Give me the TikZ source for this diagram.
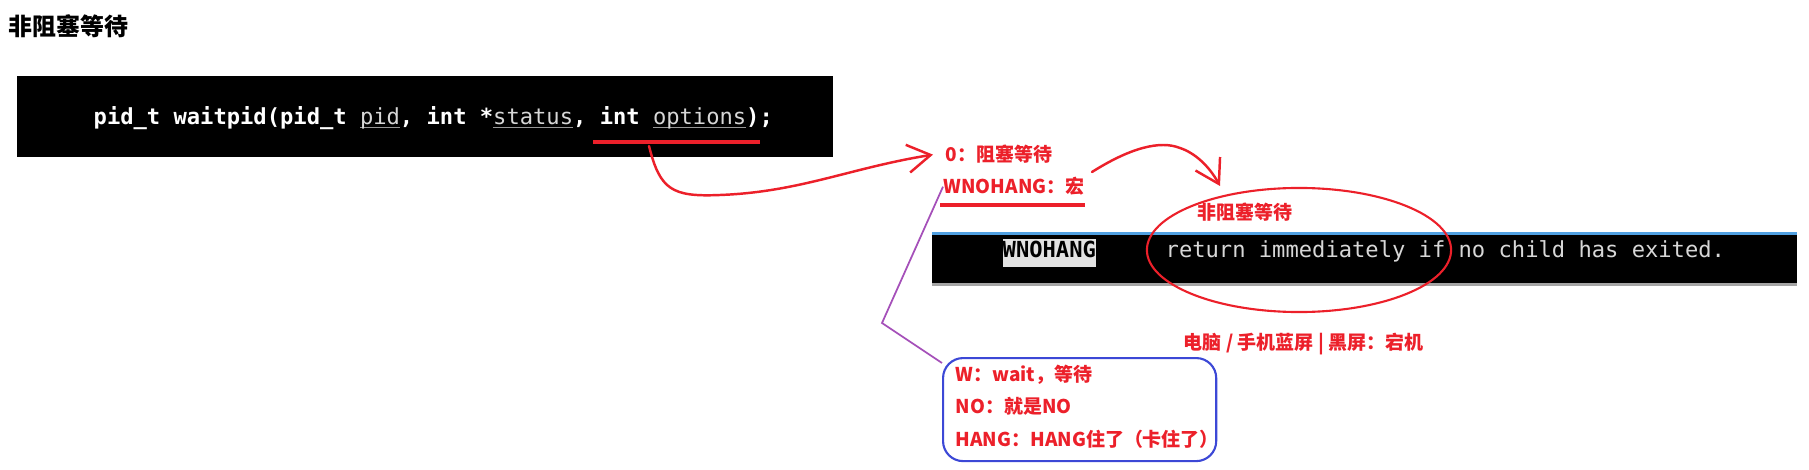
\documentclass[tikz,border=0pt]{standalone}
\usepackage{fontspec}
\newfontfamily\cjk{Noto Sans CJK SC}
\newfontfamily\codefont{DejaVu Sans Mono}
\usetikzlibrary{arrows.meta}
\definecolor{anotrojo}{RGB}{236,32,42}
\definecolor{morado}{RGB}{165,80,185}
\definecolor{azulmarco}{RGB}{60,72,214}
\definecolor{azulborde}{RGB}{80,160,225}
\definecolor{grisborde}{RGB}{165,165,165}
\definecolor{grisresalte}{RGB}{226,226,226}
\definecolor{grisenlace}{RGB}{150,150,150}
\definecolor{textoenlace}{RGB}{215,215,215}
\newsavebox\cajaenlace
\newcommand\enlace[1]{\sbox\cajaenlace{\mdseries\color{textoenlace}#1}\rlap{\color{grisenlace}\rule[-0.03cm]{\wd\cajaenlace}{0.012cm}}\usebox\cajaenlace}
\begin{document}
\begin{tikzpicture}[x=0.01cm,y=-0.01cm,
    anot/.style={anchor=base west,inner sep=0,text=anotrojo,font=\cjk\bfseries\fontsize{5.4pt}{6pt}\selectfont},
    codigo/.style={anchor=base west,inner sep=0,font=\codefont\fontsize{6.29pt}{7pt}\selectfont},
    trazo/.style={anotrojo,line width=0.7pt,line cap=round,line join=round},
    punta/.style={-{Straight Barb[length=0.23cm,width=0.28cm]}}]
    \useasboundingbox (0,0) rectangle (1809,470);

    % Titulo
    \node[anchor=base west,inner sep=0,font=\cjk\bfseries\fontsize{6.8pt}{8pt}\selectfont] (titulo) at (8,36) {非阻塞等待};

    % Prototipo de la funcion
    \fill[black] (17,76) rectangle (833,157);
    \node[codigo,text=white] (proto) at (93,125) {\bfseries pid\_t waitpid(pid\_t \enlace{pid}, int *\enlace{status}, int \enlace{options});};
    \coordinate (optL) at (593,142);
    \coordinate (optR) at (760,142);
    \draw[anotrojo,line width=0.9pt] (optL) -- (optR);
    \coordinate (inicio) at (649,146);

    % Valores de options
    \node[anot] (cero) at (945,162) {0：阻塞等待};
    \node[anot] (wn) at (943,194) {WNOHANG：宏};
    \draw[anotrojo,line width=0.9pt] ([shift={(-0.03cm,-0.11cm)}]wn.base west) -- ([yshift=-0.11cm]wn.base east);
    \draw[trazo,punta] (inicio) .. controls (660,190) and (672,197) .. (720,195) .. controls (800,192) and (850,168) .. ([xshift=-0.12cm]cero.west);

    % Pagina del manual
    \fill[black] (932,234) rectangle (1797,284);
    \draw[azulborde,line width=0.6pt] (932,233.5) -- (1797,233.5);
    \draw[grisborde,line width=0.8pt] (932,284.5) -- (1797,284.5);
    \node[codigo,fill=grisresalte,text=black,text height=0.19cm,text depth=0.09cm] (opcion) at (1002,258) {\bfseries WNOHANG};
    \node[codigo,text=textoenlace] (desc) at (1165,258) {return immediately if no child has exited.};

    % No bloqueante
    \node[anot] (nobloq) at (1197,220) {非阻塞等待};
    \draw[anotrojo,line width=0.6pt] (1299,250) ellipse [x radius=1.52cm,y radius=0.62cm];
    \coordinate (salida) at (1092,172);
    \coordinate (llegada) at (1220,186);
    \draw[trazo,punta] (salida) .. controls (1130,148) and (1160,140) .. (1180,148) .. controls (1195,153) and (1209,166) .. (llegada);
    \node[anot] (pantalla) at (1183,350) {电脑 / 手机蓝屏 | 黑屏：宕机};

    % Significado de WNOHANG
    \node[draw=azulmarco,line width=0.6pt,rounded corners=0.2cm,minimum width=2.73cm,minimum height=1.03cm,anchor=north west,inner sep=0] (caja) at (942,357) {};
    \coordinate (codo) at (882,323);
    \draw[morado,line width=0.5pt] (wn.west) -- (codo) -- ([yshift=-0.06cm]caja.north west);
    \node[anot] (w) at (955,381) {W：wait，等待};
    \node[anot] (no) at (955,413) {NO：就是NO};
    \node[anot] (hang) at (955,446) {HANG：HANG住了（卡住了）};
\end{tikzpicture}
\end{document}
